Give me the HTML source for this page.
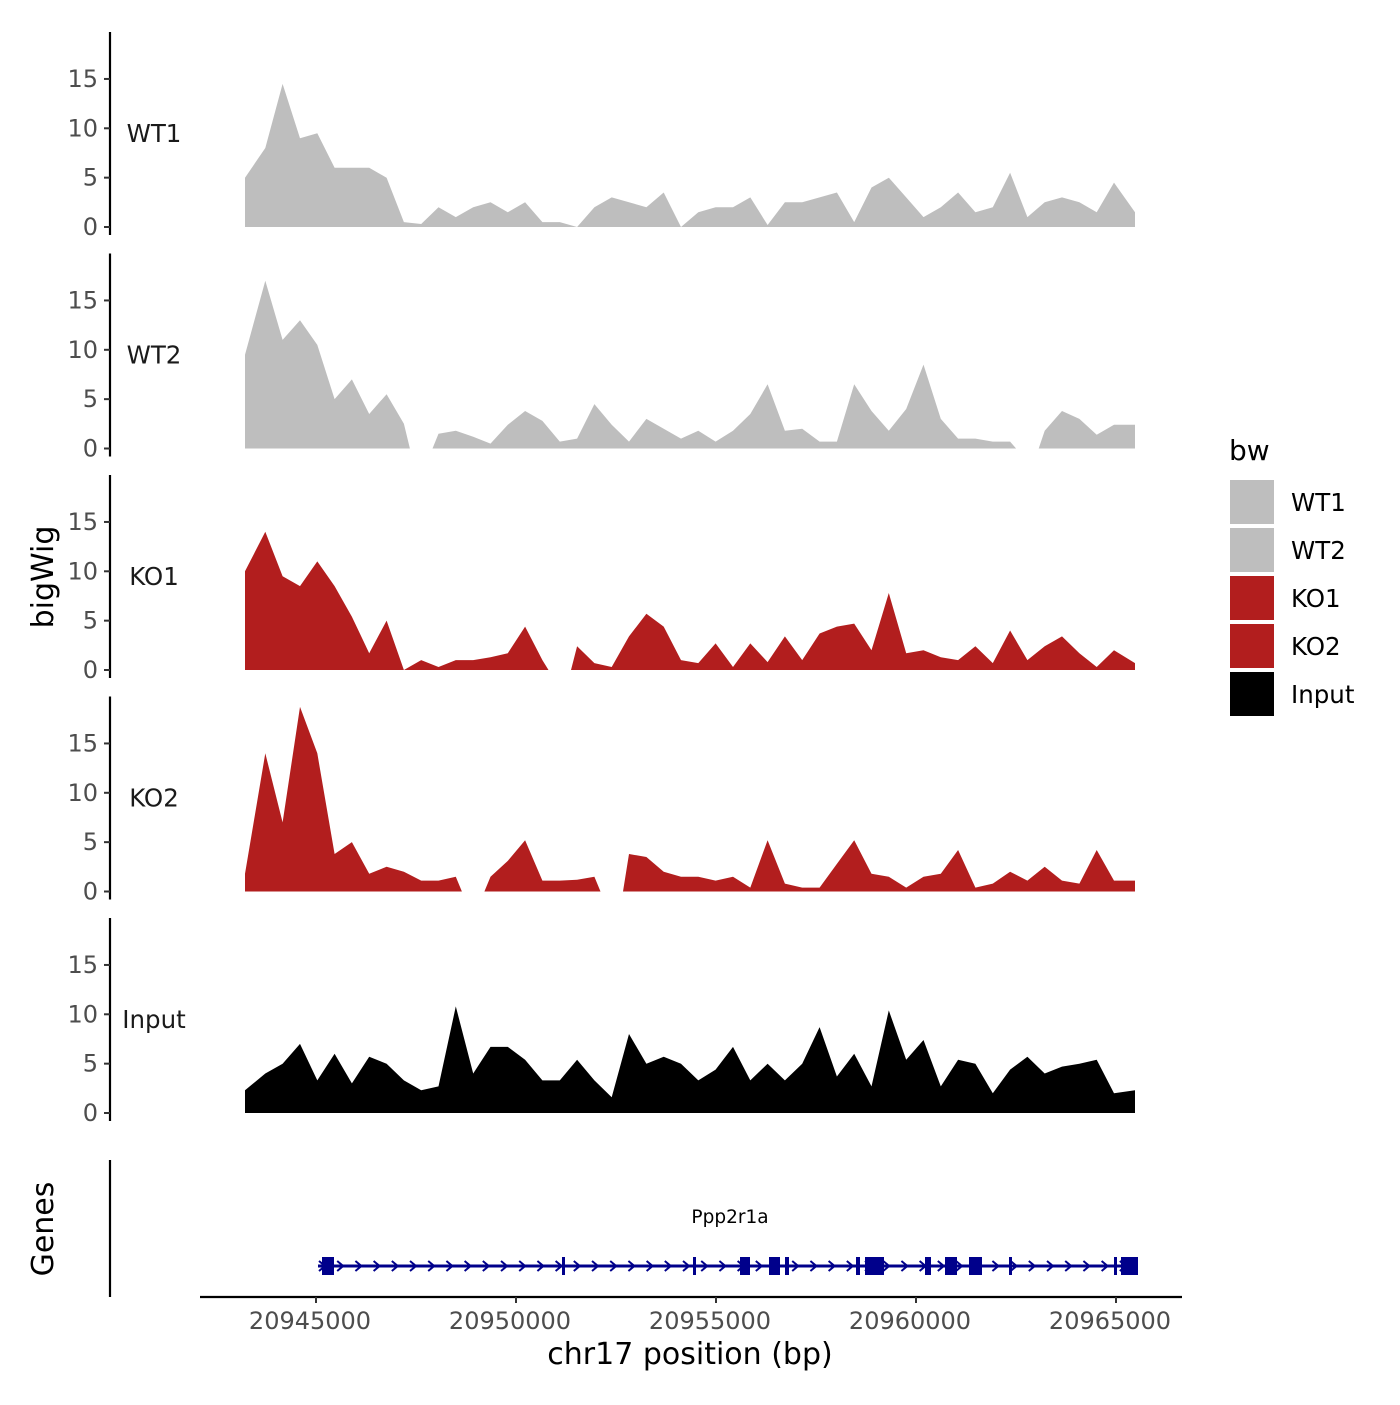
<!DOCTYPE html>
<html><head><meta charset="utf-8"><style>
body{margin:0;background:#fff}
svg text{font-family:"DejaVu Sans","Liberation Sans",sans-serif}
</style></head><body>
<svg id="c" width="1400" height="1400" viewBox="0 0 1400 1400" xmlns="http://www.w3.org/2000/svg"></svg>
<script>
const trackNames=["WT1","WT2","KO1","KO2","Input"];
const trackColors=["#bebebe","#bebebe","#b21e1e","#b21e1e","#000000"];
const binStart=20943300, binStep=433;
const wt1=[5,8,14.5,9,9.5,6,6,6,5,0.5,0.3,2,1,2,2.5,1.5,2.5,0.5,0.5,0,2,3,2.5,2,3.5,0,1.5,2,2,3,0.2,2.5,2.5,3,3.5,0.5,4,5,3,1,2,3.5,1.5,2,5.5,1,2.5,3,2.5,1.5,4.5,1.5];
const wt2=[9.5,17,11,13,10.5,5,7,3.5,5.5,2.5,null,1.5,1.8,1.2,0.5,2.4,3.8,2.8,0.7,1,4.5,2.4,0.7,3,2,1,1.8,0.7,1.8,3.5,6.5,1.8,2,0.7,0.7,6.5,3.8,1.8,4,8.5,3,1,1,0.7,0.7,null,1.8,3.8,3,1.4,2.4,2.4];
const ko1=[10,14,9.5,8.5,11,8.5,5.4,1.7,5,0,1,0.3,1,1,1.3,1.7,4.4,1,null,2.4,0.7,0.3,3.4,5.7,4.4,1,0.7,2.7,0.3,2.7,0.8,3.4,1,3.7,4.4,4.7,2,7.8,1.7,2,1.3,1,2.4,0.7,4,1,2.4,3.4,1.7,0.3,2,0.7];
const ko2=[1.8,14,7,18.7,14,3.8,5,1.8,2.5,2,1.1,1.1,1.5,null,1.5,3.1,5.2,1.1,1.1,1.2,1.5,null,3.8,3.5,2,1.5,1.5,1.1,1.5,0.4,5.2,0.8,0.4,0.4,2.8,5.2,1.8,1.5,0.4,1.5,1.8,4.2,0.4,0.8,2,1.1,2.5,1.1,0.8,4.2,1.1,1.1];
const input=[2.3,4,5,7,3.3,6,3,5.7,5,3.3,2.3,2.7,10.8,4,6.7,6.7,5.4,3.3,3.3,5.4,3.3,1.6,8,5,5.7,5,3.3,4.4,6.7,3.3,5,3.3,5,8.7,3.7,6,2.7,10.4,5.4,7.4,2.7,5.4,5,2,4.4,5.7,4,4.7,5,5.4,2,2.3];
const series=[wt1,wt2,ko1,ko2,input];
const yTicks=[0,5,10,15];
const xTicks=[20945000,20950000,20955000,20960000,20965000];
const geneStart=20945050, geneEnd=20965550;
const exonStarts=[20945150,20951150,20954425,20955600,20956325,20956725,20958500,20958725,20960225,20960725,20961325,20962325,20964950,20965125];
const exonEnds=[20945450,20951225,20954500,20955850,20956600,20956825,20958600,20959200,20960375,20961025,20961650,20962400,20965025,20965550];

const NS="http://www.w3.org/2000/svg";
const svg=document.getElementById('c');
function mk(tag,attrs,parent){const e=document.createElementNS(NS,tag);for(const k in attrs)e.setAttribute(k,attrs[k]);(parent||svg).appendChild(e);return e;}
const xS=bp=>316+(bp-20945000)*0.04;
const panelTop=k=>32+221.5*k, base=k=>227+221.5*k;
const yS=(k,v)=>base(k)-v*9.87;

for(let k=0;k<5;k++){
  const g=mk('g',{});
  
  
  const ax=mk('line',{x1:110,x2:110,y1:panelTop(k),y2:base(k)+8,stroke:'#000','stroke-width':2.2},g);
  
  
  yTicks.forEach(t=>{
    const tk=mk('line',{x1:104,x2:110,y1:yS(k,t),y2:yS(k,t),stroke:'#333','stroke-width':2},g);
    
    
    const tl=mk('text',{x:98,y:yS(k,t)+8,'text-anchor':'end','font-size':24,fill:'#4d4d4d'},g);
    tl.textContent=t;
    
    
  });
  const lb=mk('text',{x:154,y:base(k)-85,'text-anchor':'middle','font-size':24.5,fill:'#1a1a1a'},g);
  lb.textContent=trackNames[k];
  
  
  const d=series[k];let segs=[],cur=[];
  d.forEach((v,i)=>{if(v===null){if(cur.length)segs.push(cur);cur=[];}else cur.push([binStart+i*binStep,v]);});
  if(cur.length)segs.push(cur);
  const ext=binStep*0.35*0.04;
  segs.forEach((s,si)=>{
    const first=si===0, last=si===segs.length-1;
    const pts=s.map(pt=>[xS(pt[0]),yS(k,pt[1])]);
    if(first)pts[0][0]=245;
    if(last)pts[pts.length-1][0]=1135;
    let x0=first?245:pts[0][0]-ext;
    let x1=last?1135:pts[pts.length-1][0]+ext;
    let p='M'+x0.toFixed(1)+','+base(k);
    pts.forEach(pt=>{p+='L'+pt[0].toFixed(1)+','+pt[1].toFixed(1);});
    p+='L'+x1.toFixed(1)+','+base(k)+'Z';
    const a=mk('path',{d:p,fill:trackColors[k]},g);
    
    
  });
}
const ga=mk('line',{x1:110,x2:110,y1:1160,y2:1297,stroke:'#000','stroke-width':2.2});


const gl=mk('line',{x1:xS(geneStart),x2:xS(geneEnd),y1:1266,y2:1266,stroke:'#00008b','stroke-width':3});


for(let x=xS(geneStart)+4;x<xS(geneEnd)-4;x+=18.2){
  const ar=mk('path',{d:`M${x-3},${1261}L${x+3},${1266}L${x-3},${1271}`,fill:'none',stroke:'#00008b','stroke-width':2});
  
  
}
exonStarts.forEach((s,i)=>{
  const w=Math.max(3,xS(exonEnds[i])-xS(s));
  const r=mk('rect',{x:xS(s),y:1257,width:w,height:18,fill:'#00008b'});
  
  
});
const gn=mk('text',{x:730,y:1223,'text-anchor':'middle','font-size':18.5,fill:'#000','font-family':'DejaVu Sans Mono, Liberation Mono, monospace'});
gn.textContent='Ppp2r1a';


const xa=mk('line',{x1:200,x2:1182,y1:1297,y2:1297,stroke:'#000','stroke-width':2.2});


xTicks.forEach(t=>{
  const tk=mk('line',{x1:xS(t),x2:xS(t),y1:1297,y2:1303,stroke:'#333','stroke-width':2});
  
  
  const tl=mk('text',{x:xS(t)-6,y:1329,'text-anchor':'middle','font-size':24,fill:'#4d4d4d'});
  tl.textContent=t;
  
  
});
const xt=mk('text',{x:690,y:1364,'text-anchor':'middle','font-size':30,fill:'#000'});
xt.textContent='chr17 position (bp)';


const yt=mk('text',{x:0,y:0,'text-anchor':'middle','font-size':30,fill:'#000',transform:'translate(53,577) rotate(-90)'});
yt.textContent='bigWig';


const gt=mk('text',{x:0,y:0,'text-anchor':'middle','font-size':30,fill:'#000',transform:'translate(53,1229) rotate(-90)'});
gt.textContent='Genes';


const lt=mk('text',{x:1229,y:460,'font-size':28,fill:'#000'});
lt.textContent='bw';


trackNames.forEach((n,i)=>{
  const r=mk('rect',{x:1230,y:480+48*i,width:44,height:44,fill:trackColors[i]});
  
  
  const t=mk('text',{x:1291,y:511+48*i,'font-size':24.5,fill:'#000'});
  t.textContent=n;
  
  
});
</script>
</body></html>
